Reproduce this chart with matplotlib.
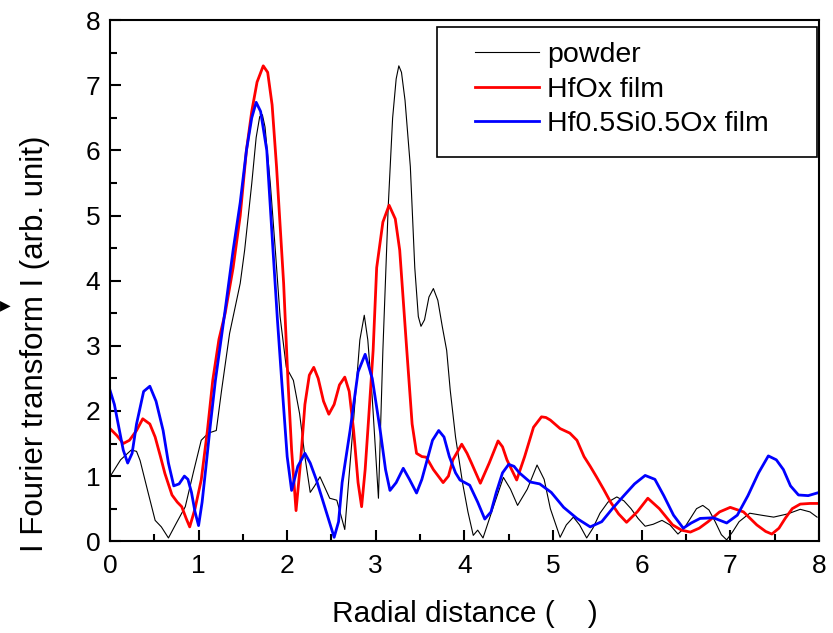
import numpy as np
import matplotlib
matplotlib.use("Agg")
import matplotlib.pyplot as plt
from matplotlib.ticker import MultipleLocator
from matplotlib.patches import Rectangle

plt.rcParams['font.family'] = ['Liberation Sans', 'DejaVu Sans']

# values
powder_x = [0.0, 0.12, 0.24, 0.3, 0.34, 0.43, 0.51, 0.58, 0.66, 0.75, 0.85, 0.94, 1.03, 1.11, 1.2,
            1.26, 1.35, 1.47, 1.52, 1.6, 1.65, 1.69, 1.72, 1.75, 1.81, 1.87, 1.92, 1.99, 2.07, 2.14,
            2.2, 2.26, 2.31, 2.37, 2.48, 2.56, 2.65, 2.74, 2.82, 2.87, 2.91, 2.96, 3.03, 3.08, 3.14,
            3.19, 3.23, 3.26, 3.29, 3.33, 3.39, 3.44, 3.48, 3.51, 3.55, 3.6, 3.65, 3.7, 3.75, 3.8,
            3.84, 3.9, 3.98, 4.04, 4.1, 4.15, 4.21, 4.32, 4.44, 4.52, 4.6, 4.71, 4.82, 4.9, 4.97,
            5.08, 5.15, 5.23, 5.3, 5.38, 5.45, 5.53, 5.62, 5.72, 5.8, 5.88, 5.96, 6.04, 6.13, 6.23,
            6.32, 6.41, 6.48, 6.55, 6.62, 6.69, 6.76, 6.83, 6.9, 6.96, 7.03, 7.1, 7.22, 7.35, 7.49,
            7.65, 7.79, 7.9, 7.98]
powder_y = [0.99, 1.25, 1.4, 1.38, 1.24, 0.75, 0.32, 0.22, 0.05, 0.28, 0.53, 1.05, 1.55, 1.66, 1.7,
            2.32, 3.19, 3.96, 4.47, 5.49, 6.2, 6.52, 6.55, 6.36, 5.49, 4.4, 3.45, 2.67, 2.47, 1.96,
            1.3, 0.75, 0.85, 0.99, 0.66, 0.63, 0.18, 1.7, 3.09, 3.47, 3.09, 2.2, 0.66, 2.93, 5.13,
            6.5, 7.1, 7.3, 7.2, 6.77, 5.75, 4.2, 3.45, 3.3, 3.4, 3.75, 3.88, 3.7, 3.3, 2.93,
            2.32, 1.6, 0.89, 0.45, 0.09, 0.17, 0.05, 0.5, 0.98, 0.8, 0.55, 0.8, 1.17, 0.95, 0.5,
            0.06, 0.25, 0.37, 0.25, 0.05, 0.2, 0.43, 0.6, 0.68, 0.62, 0.5, 0.35, 0.23, 0.26, 0.32,
            0.25, 0.11, 0.2, 0.35, 0.5, 0.55, 0.48, 0.3, 0.1, 0.02, 0.15, 0.3, 0.43, 0.4, 0.37,
            0.42, 0.49, 0.45, 0.37]

hfo_x = [0.0, 0.08, 0.15, 0.22, 0.3, 0.37, 0.45, 0.51, 0.57, 0.62, 0.7, 0.76, 0.81, 0.86, 0.9,
         0.96, 1.03, 1.1, 1.16, 1.23, 1.3, 1.39, 1.47, 1.54, 1.6, 1.66, 1.73, 1.78, 1.83, 1.88,
         1.96, 2.01, 2.05, 2.1, 2.15, 2.2, 2.25, 2.3, 2.35, 2.41, 2.47, 2.53, 2.59, 2.65, 2.7,
         2.75, 2.8, 2.84, 2.88, 2.92, 2.97, 3.01, 3.08, 3.15, 3.22, 3.27, 3.35, 3.41, 3.46, 3.52,
         3.57, 3.65, 3.76, 3.82, 3.87, 3.97, 4.03, 4.08, 4.18, 4.28, 4.38, 4.43, 4.48, 4.59, 4.68,
         4.78, 4.87, 4.92, 4.97, 5.08, 5.19, 5.27, 5.35, 5.42, 5.49, 5.57, 5.65, 5.74, 5.83, 5.95,
         6.07, 6.2, 6.35, 6.45, 6.55, 6.65, 6.75, 6.88, 7.0, 7.15, 7.3, 7.4, 7.47, 7.55, 7.62,
         7.7, 7.79, 7.9, 7.98]
hfo_y = [1.73, 1.62, 1.5, 1.55, 1.7, 1.88, 1.8, 1.6, 1.3, 1.04, 0.71, 0.6, 0.53, 0.35, 0.22,
         0.5, 0.94, 1.7, 2.47, 3.1, 3.5, 4.2, 5.0, 6.0, 6.6, 7.05, 7.3, 7.2, 6.7, 5.75,
         3.96, 2.43, 1.4, 0.47, 1.2, 2.1, 2.55, 2.67, 2.5, 2.15, 1.95, 2.1, 2.4, 2.52, 2.3,
         1.7, 0.9, 0.53, 1.1, 1.9, 2.93, 4.2, 4.9, 5.16, 4.95, 4.47, 2.93, 1.8, 1.35, 1.3,
         1.29, 1.1, 0.9, 1.0, 1.25, 1.49, 1.35, 1.2, 0.89, 1.2, 1.54, 1.45, 1.25, 0.94, 1.3,
         1.75, 1.91, 1.9, 1.86, 1.73, 1.66, 1.55, 1.3, 1.15, 0.99, 0.8, 0.6, 0.42, 0.29, 0.45,
         0.66, 0.5, 0.25, 0.17, 0.14, 0.2, 0.3, 0.45, 0.52, 0.45, 0.25, 0.15, 0.11, 0.2, 0.35,
         0.5, 0.57, 0.58, 0.58]

hfsio_x = [0.0, 0.05, 0.1, 0.15, 0.2, 0.25, 0.3, 0.38, 0.45, 0.52, 0.6, 0.66, 0.72, 0.78, 0.84,
           0.88, 0.92, 0.96, 1.0, 1.04, 1.08, 1.13, 1.19, 1.3, 1.39, 1.47, 1.54, 1.6, 1.65, 1.7,
           1.77, 1.84, 1.89, 1.94, 2.0, 2.05, 2.12, 2.2, 2.26, 2.33, 2.43, 2.53, 2.58, 2.62, 2.71,
           2.8, 2.88, 2.96, 3.05, 3.11, 3.16, 3.23, 3.31, 3.38, 3.46, 3.52, 3.58, 3.64, 3.71, 3.77,
           3.83, 3.9, 3.95, 4.06, 4.15, 4.23, 4.3, 4.36, 4.43, 4.5, 4.56, 4.62, 4.74, 4.85, 4.98,
           5.12, 5.27, 5.42, 5.55, 5.67, 5.8, 5.92, 6.04, 6.15, 6.25, 6.36, 6.47, 6.56, 6.66, 6.81,
           6.96, 7.08, 7.2, 7.32, 7.43, 7.52, 7.6, 7.68, 7.77, 7.88, 7.98]
hfsio_y = [2.32, 2.1, 1.75, 1.4, 1.2, 1.35, 1.8, 2.3, 2.38, 2.15, 1.7, 1.2, 0.85, 0.88, 1.0,
           0.95, 0.75, 0.45, 0.24, 0.6, 1.1, 1.75, 2.47, 3.55, 4.47, 5.2, 6.0, 6.5, 6.74, 6.6,
           6.0, 4.47, 3.4, 2.43, 1.3, 0.78, 1.15, 1.35, 1.2, 0.94, 0.5, 0.06, 0.3, 0.9, 1.7,
           2.6, 2.87, 2.5, 1.7, 1.1, 0.78, 0.9, 1.12, 0.95, 0.74, 0.95, 1.25, 1.55, 1.7, 1.6,
           1.3, 1.05, 0.94, 0.86, 0.6, 0.34, 0.45, 0.75, 1.05, 1.18, 1.15, 1.05, 0.91, 0.88, 0.75,
           0.52, 0.35, 0.22, 0.3, 0.5, 0.7, 0.88, 1.01, 0.95, 0.7, 0.4, 0.2, 0.28, 0.35, 0.36,
           0.28, 0.4, 0.7, 1.05, 1.31, 1.25, 1.1, 0.85, 0.71, 0.7, 0.74]

fig = plt.figure(figsize=(8.33, 6.33), dpi=100)
ax = fig.add_axes([0.132, 0.145, 0.851, 0.823])

ax.plot(powder_x, powder_y, color='black', lw=0.8, label='powder')
ax.plot(hfo_x, hfo_y, color='red', lw=2, label='HfOx film')
ax.plot(hfsio_x, hfsio_y, color='blue', lw=2, label='Hf0.5Si0.5Ox film')

ax.set_xlim(0, 8)
ax.set_ylim(0, 8)
ax.xaxis.set_major_locator(MultipleLocator(1))
ax.xaxis.set_minor_locator(MultipleLocator(0.5))
ax.yaxis.set_major_locator(MultipleLocator(1))
ax.yaxis.set_minor_locator(MultipleLocator(0.5))
ax.tick_params(which='both', direction='in', width=1.5, labelsize=19, top=False, right=False)
ax.tick_params(which='major', length=8)
ax.tick_params(axis='x', which='major', pad=9)
ax.tick_params(axis='y', which='major', pad=7)
ax.tick_params(which='minor', length=5)
for s in ax.spines.values():
    s.set_linewidth(1.5)

ax.set_xlabel('Radial distance (    )', fontsize=21.5, labelpad=16)
ax.set_ylabel('I Fourier transform I (arb. unit)', fontsize=22.5)
ax.yaxis.set_label_coords(-0.084, 0.38)

# legend box drawn separately (it is wider than its contents in the original)
ax.add_patch(Rectangle((0.4612, 0.737), 0.536, 0.2496, transform=ax.transAxes,
                       fill=True, facecolor='white', edgecolor='black', lw=1.2, zorder=4))
leg = ax.legend(loc='upper left', fontsize=20.5, frameon=False,
                handlelength=2.25, handletextpad=0.3, borderpad=0,
                labelspacing=0.3, borderaxespad=0,
                bbox_to_anchor=(0.5148, 0.958))
leg.set_zorder(5)

fig.text(0.0, 0.517, '\u25B6', fontsize=10, family='DejaVu Sans', va='center', ha='left')

fig.savefig('out.png', dpi=100)
